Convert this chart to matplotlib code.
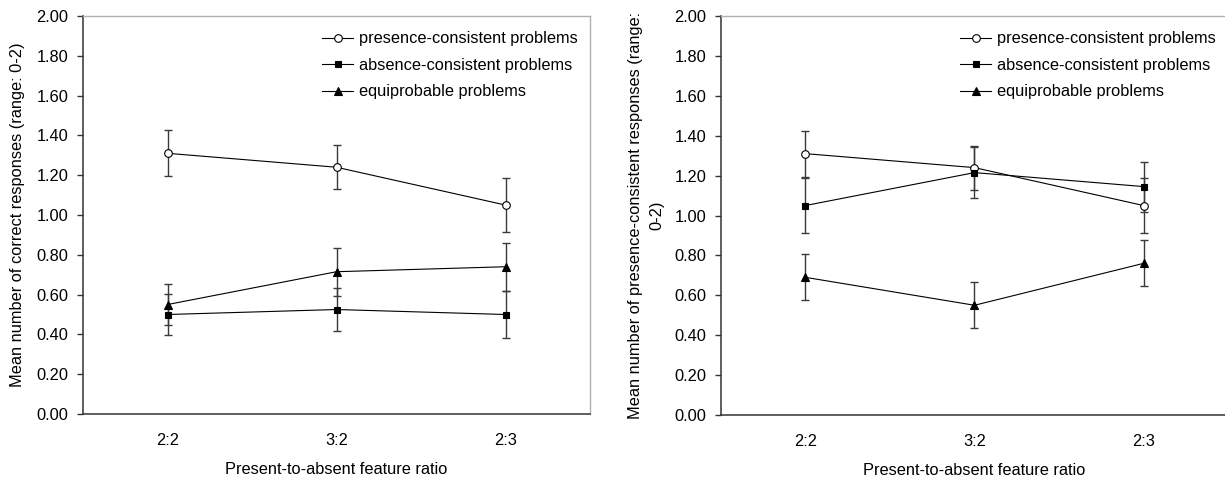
import matplotlib.pyplot as plt

plt.rcParams['font.family'] = ['Liberation Sans', 'DejaVu Sans']

ratios = ['2:2', '3:2', '2:3']
labels = ['presence-consistent problems', 'absence-consistent problems', 'equiprobable problems']

# panel izquierdo: respuestas correctas
corr_presence = [1.31, 1.24, 1.05]
corr_presence_err = [0.115, 0.11, 0.137]
corr_absence = [0.50, 0.525, 0.50]
corr_absence_err = [0.105, 0.107, 0.117]
corr_equi = [0.55, 0.715, 0.74]
corr_equi_err = [0.105, 0.12, 0.12]

# panel derecho: respuestas consistentes con presencia
pc_presence = [1.31, 1.24, 1.05]
pc_presence_err = [0.115, 0.11, 0.137]
pc_absence = [1.05, 1.215, 1.145]
pc_absence_err = [0.14, 0.127, 0.125]
pc_equi = [0.69, 0.55, 0.76]
pc_equi_err = [0.115, 0.115, 0.115]

FS = 11.8


def panel(ax, series, ylabel, label_x):
    x = range(len(ratios))
    styles = [dict(marker='o', mfc='white', ms=5.5),
              dict(marker='s', mfc='black', ms=5),
              dict(marker='^', mfc='black', ms=6.3)]
    for (vals, errs), lab, st in zip(series, labels, styles):
        ax.errorbar(x, vals, yerr=errs, fmt='none', ecolor='#3a3a3a',
                    elinewidth=1.0, capsize=3.2, capthick=1.0, zorder=2)
        ax.plot(x, vals, color='black', lw=0.8, mec='black', mew=0.8,
                label=lab, zorder=3, **st)
    ax.set_xlim(-0.5, 2.5)
    ax.set_ylim(0, 2)
    ax.set_yticks([i * 0.2 for i in range(11)])
    ax.set_yticklabels(['%.2f' % (i * 0.2) for i in range(11)], fontsize=FS)
    ax.set_xticks(list(x))
    ax.set_xticklabels(ratios, fontsize=FS)
    ax.tick_params(axis='x', length=0, pad=14)
    ax.tick_params(axis='y', length=4.5, width=1, color='#333333', pad=6)
    ax.set_xlabel('Present-to-absent feature ratio', fontsize=FS, labelpad=10)
    for s in ['left', 'bottom']:
        ax.spines[s].set_color('#333333')
        ax.spines[s].set_linewidth(1.1)
    for s in ['top', 'right']:
        ax.spines[s].set_color('#b0b0b0')
        ax.spines[s].set_linewidth(1.0)
    ax.legend(loc='upper right', bbox_to_anchor=(1.0, 0.992), frameon=False,
              fontsize=FS, handlelength=1.9, handletextpad=0.35,
              labelspacing=0.7, borderaxespad=0.15, borderpad=0.6)
    pos = ax.get_position()
    fig.text(label_x, pos.y0 + pos.height / 2, ylabel, rotation=90,
             ha='center', va='center', fontsize=FS, multialignment='center',
             linespacing=1.55)


fig = plt.figure(figsize=(12.25, 4.79), dpi=100)
ax1 = fig.add_axes([83 / 1225, 65 / 479, 507 / 1225, 398 / 479])
ax2 = fig.add_axes([721 / 1225, 64 / 479, 507 / 1225, 399 / 479])

panel(ax1, [(corr_presence, corr_presence_err), (corr_absence, corr_absence_err),
            (corr_equi, corr_equi_err)],
      'Mean number of correct responses (range: 0-2)', 18 / 1225)
panel(ax2, [(pc_presence, pc_presence_err), (pc_absence, pc_absence_err),
            (pc_equi, pc_equi_err)],
      'Mean number of presence-consistent responses (range:\n0-2)', 646 / 1225)

fig.savefig('out.png', dpi=100)
